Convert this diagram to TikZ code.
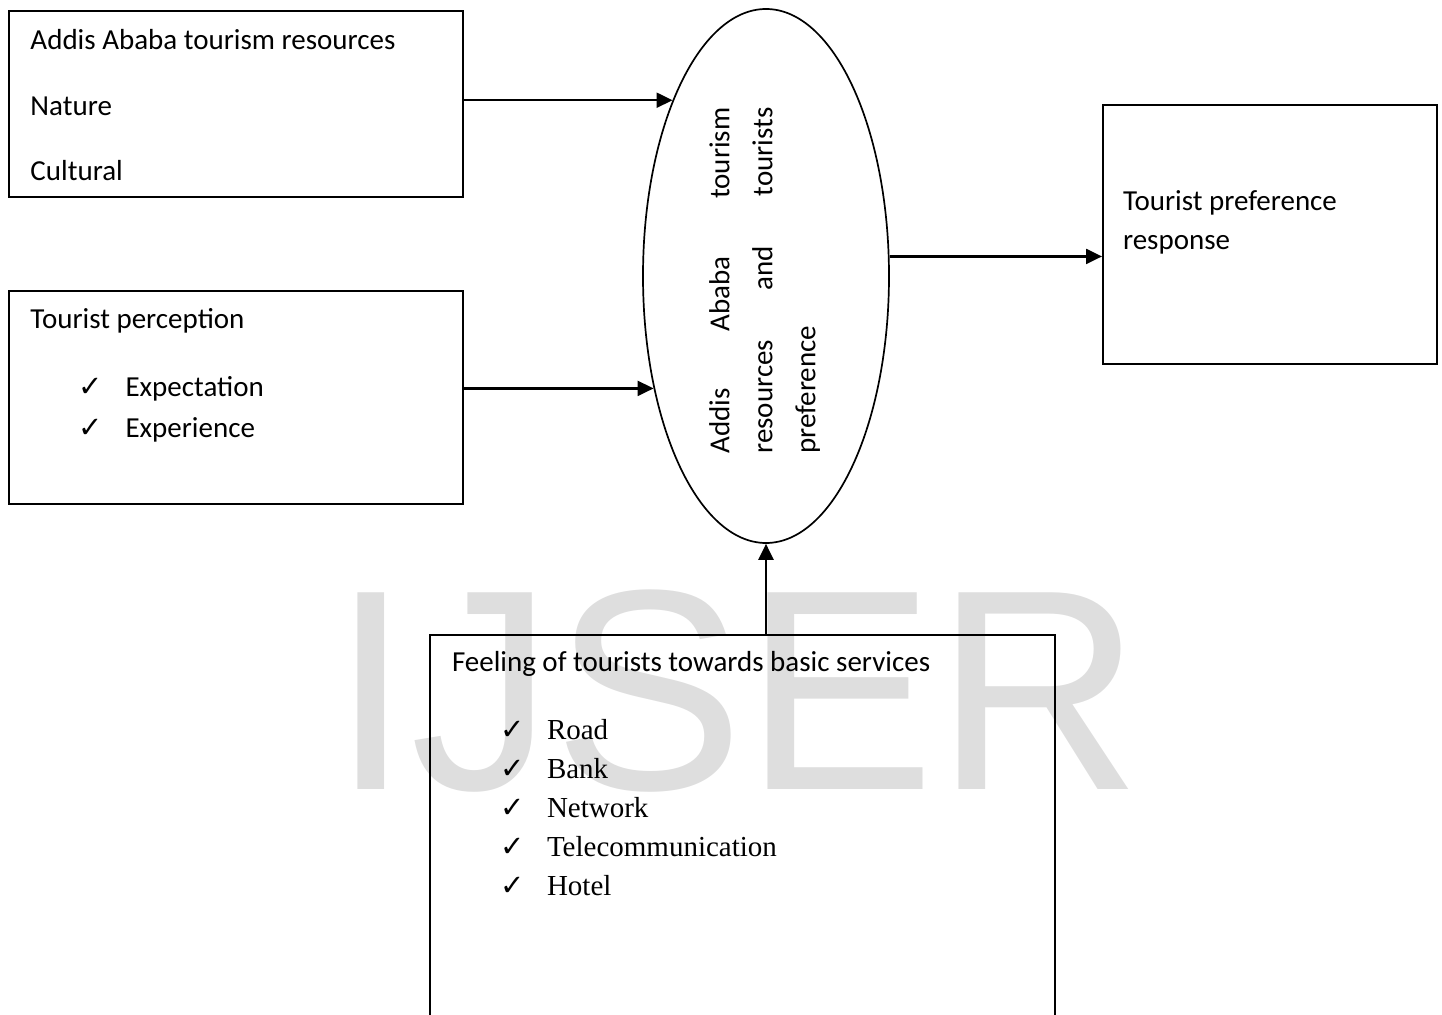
\documentclass[tikz,border=0pt]{standalone}
\usepackage{fontspec}
\setmainfont{Carlito}
\newfontfamily\timesfont{Liberation Serif}
\newfontfamily\tickfont{DejaVu Sans}
\newfontfamily\wmfont{Liberation Sans}
\usetikzlibrary{arrows.meta, shapes.geometric}

\newcommand{\tickitem}[1]{\hspace*{24pt}\makebox[23.5pt][l]{{\tickfont ✓}}#1}

\begin{document}
\begin{tikzpicture}[x=0.5pt, y=-0.5pt,
    box/.style={draw, line width=1pt, anchor=north west, align=left, inner ysep=0pt,
                execute at begin node={\spaceskip=0pt\xspaceskip=0pt}},
    arrow/.style={-{Triangle[length=8pt, width=7.5pt]}, line width=1.1pt}]

        \useasboundingbox (0,0) rectangle (1442,1015);

        % Watermark
        \node[anchor=base west, inner sep=0pt, text=black!13,
              font=\wmfont\fontsize{143}{143}\selectfont] (wm) at (331,790) {IJSER};

        % Input boxes
        \node[box, inner xsep=10.75pt, text width=205.5pt, text height=19.5pt, text depth=73.5pt,
              font=\fontsize{14.5}{32.75}\selectfont] (resources) at (8,10)
            {Addis Ababa tourism resources\\ Nature\\ Cultural};

        \node[box, inner xsep=10.75pt, text width=205.5pt, text height=19pt, text depth=87.5pt,
              font=\fontsize{14.5}{20.5}\selectfont] (perception) at (8,290)
            {Tourist perception\\[13.5pt]
             \tickitem{Expectation}\\
             \tickitem{Experience}};

        \node[box, inner xsep=11pt, text width=290.5pt, text height=18.5pt, text depth=191.5pt,
              font=\fontsize{14.5}{19.5}\selectfont] (services) at (429,634)
            {Feeling of tourists towards basic services\\[14.5pt]
             \timesfont
             \tickitem{Road}\\
             \tickitem{Bank}\\
             \tickitem{Network}\\
             \tickitem{Telecommunication}\\
             \tickitem{Hotel}};

        % Output box
        \node[box, inner xsep=10pt, text width=147pt, text height=53pt, text depth=76.5pt,
              font=\fontsize{14.5}{19.5}\selectfont] (response) at (1102,104)
            {Tourist preference\\ response};

        % Ellipse
        \node[draw, ellipse, line width=0.85pt, inner sep=0pt,
              minimum width=123pt, minimum height=267pt] (hub) at (766,276) {};
        \node[rotate=90, anchor=north west, inner sep=0pt, align=left,
              text width=173pt, text height=10.5pt,
              font=\fontsize{14.5}{21.5}\selectfont] (hubtext) at (708,454)
            {Addis\hfill Ababa\hfill tourism\\
             resources\hfill and\hfill tourists\\
             preference};

        % Arrows
        \draw[arrow] (resources.east |- hub.118) -- (hub.118);
        \draw[arrow] (perception.east |- hub.225) -- (hub.225);
        \draw[arrow] (services.north -| hub.south) -- (hub.south);
        \draw[arrow] (hub.9) -- (hub.9 -| response.west);

    \end{tikzpicture}
\end{document}
